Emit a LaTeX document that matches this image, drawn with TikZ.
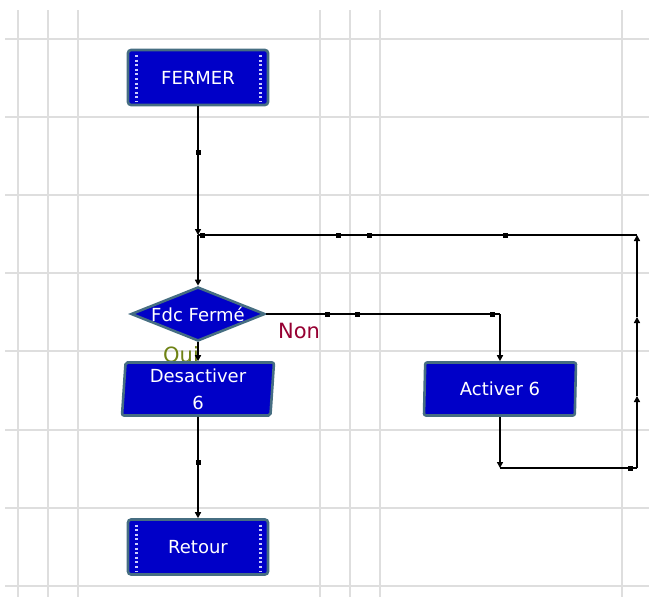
\documentclass[tikz,border=0pt]{standalone}
\usepackage{fontspec}
\setmainfont{DejaVu Sans}
\usetikzlibrary{shapes.geometric,arrows.meta}
\definecolor{boxblue}{RGB}{0,0,200}
\definecolor{boxedge}{RGB}{70,110,130}
\definecolor{gridgray}{RGB}{222,222,222}
\definecolor{nonred}{RGB}{150,0,50}
\definecolor{ouigreen}{RGB}{110,130,20}
\begin{document}
\begin{tikzpicture}[x=1pt,y=-1pt,
    blk/.style={rectangle, fill=boxblue, draw=boxedge, line width=2.6pt, rounded corners=3pt,
      text=white, minimum width=140pt, minimum height=55pt, font=\fontsize{18}{22}\selectfont,
      path picture={
        \draw[white!80!blue, line width=3pt, dash pattern=on 2pt off 2.6pt]
          ([xshift=8pt,yshift=-5pt]path picture bounding box.north west) --
          ([xshift=8pt,yshift=3pt]path picture bounding box.south west);
        \draw[white!80!blue, line width=3pt, dash pattern=on 2pt off 2.6pt]
          ([xshift=-8pt,yshift=-5pt]path picture bounding box.north east) --
          ([xshift=-8pt,yshift=3pt]path picture bounding box.south east);}},
    io/.style={trapezium, trapezium left angle=85, trapezium right angle=95,
      trapezium stretches body, fill=boxblue, draw=boxedge, line width=2.6pt,
      rounded corners=2pt, text=white, minimum width=152pt, minimum height=53pt,
      inner sep=0pt, align=center, font=\fontsize{18}{27}\selectfont},
    test/.style={diamond, aspect=2.5, fill=boxblue, draw=boxedge, line width=2.6pt,
      text=white, inner sep=0pt, minimum width=134pt, minimum height=54pt,
      font=\fontsize{18}{22}\selectfont},
    link/.style={draw=black, line width=1.8pt},
    tip/.style={-{Triangle[length=6pt,width=6pt]}},
    jdot/.style={rectangle, fill=black, inner sep=0pt, minimum size=5pt},
    gridline/.style={draw=gridgray, line width=2pt},
    lbl/.style={font=\fontsize{21}{24}\selectfont}]
  \useasboundingbox (0,0) rectangle (649,597);
  % grid
  \foreach \gx in {18,48,78,320,350,380,622}
    \draw[gridline] (\gx,10) -- (\gx,597);
  \foreach \gy in {39,117,195,273,351,430,508,586}
    \draw[gridline] (5,\gy) -- (649,\gy);

  \node[blk] (fermer) at (198,77.5) {FERMER};
  \node[test] (fdc) at (198,314) {Fdc Fermé};
  \node[lbl, text=nonred] (non) at (299,331) {Non};
  \node[lbl, text=ouigreen] (oui) at (181,355) {Oui};
  \node[io] (desact) at (198,389) {Desactiver\\6};
  \node[io] (act) at (500,389) {Activer 6};
  \node[blk] (retour) at (198,547) {Retour};

  \coordinate (j1) at (198,235);
  \coordinate (c1) at (500,314);
  \coordinate (c2) at (500,468);
  \coordinate (c3) at (637,468);
  \coordinate (a1) at (637,396);
  \coordinate (a2) at (637,317);
  \coordinate (c4) at (637,235);

  \draw[link,tip] (fermer) -- node[jdot,pos=0.36]{} (j1);
  \draw[link,tip] (j1) -- (fdc);
  \draw[link,tip] (fdc) -- (desact);
  \draw[link] (fdc.east) -- node[jdot,pos=0.26]{} node[jdot,pos=0.39]{} node[jdot,pos=0.97]{} (c1);
  \draw[link,tip] (c1) -- (act);
  % boucle de retour
  \draw[link,tip] (act) -- (c2);
  \draw[link] (c2) -- node[jdot,pos=0.95]{} (c3);
  \draw[link,tip] (c3) -- (a1);
  \draw[link,tip] (a1) -- (a2);
  \draw[link,tip] (a2) -- (c4);
  \draw[link] (c4) -- node[jdot,pos=0.3]{} node[jdot,pos=0.61]{} node[jdot,pos=0.68]{} node[jdot,pos=0.99]{} (j1);
  \draw[link,tip] (desact) -- node[jdot,pos=0.45]{} (retour);
\end{tikzpicture}
\end{document}
